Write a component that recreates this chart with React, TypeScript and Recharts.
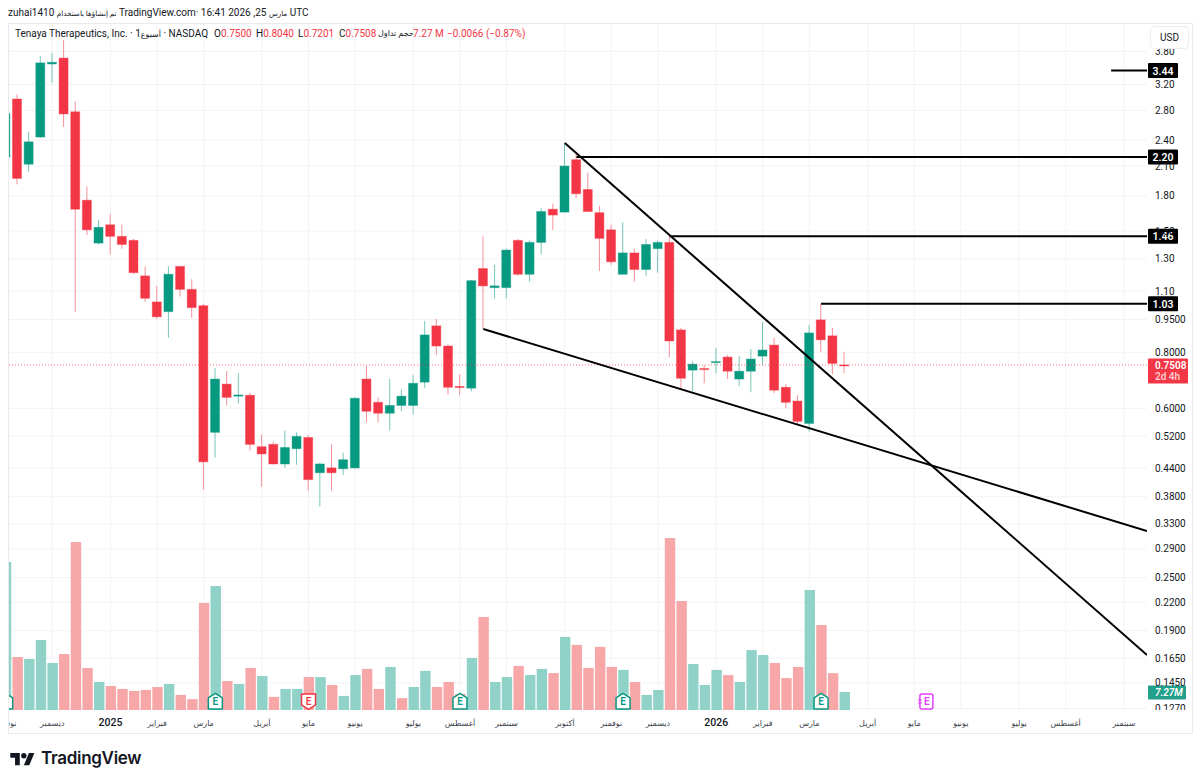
import React from 'react'
import { Bar, CartesianGrid, Cell, ComposedChart, Line, ReferenceDot, ReferenceLine, XAxis, YAxis } from 'recharts'

const opens = [2.2, 2.97, 2.12, 2.44, 3.56, 3.67, 2.78, 1.76, 1.41, 1.55, 1.46, 1.43, 1.19, 1.04, 0.989, 1.25, 1.11, 1.02, 0.53, 0.68, 0.639, 0.642, 0.492, 0.498, 0.45, 0.487, 0.516, 0.43, 0.441, 0.439, 0.441, 0.698, 0.619, 0.585, 0.609, 0.609, 0.687, 0.919, 0.828, 0.672, 0.666, 1.236, 1.12, 1.12, 1.43, 1.2, 1.415, 1.68, 1.655, 2.17, 1.86, 1.65, 1.51, 1.2, 1.34, 1.23, 1.37, 1.415, 0.9, 0.731, 0.737, 0.76, 0.782, 0.698, 0.727, 0.786, 0.832, 0.669, 0.623, 0.555, 0.948, 0.873, 0.75]
const highs = [2.78, 3.04, 2.51, 3.71, 3.77, 4.03, 2.93, 1.89, 1.59, 1.64, 1.55, 1.44, 1.25, 1.13, 1.25, 1.25, 1.17, 1.03, 0.739, 0.727, 0.72, 0.649, 0.524, 0.505, 0.535, 0.53, 0.522, 0.453, 0.498, 0.477, 0.635, 0.747, 0.635, 0.698, 0.662, 0.712, 0.943, 0.953, 0.835, 0.716, 1.165, 1.46, 1.26, 1.37, 1.44, 1.43, 1.69, 1.73, 2.37, 2.25, 2.03, 1.71, 1.55, 1.57, 1.37, 1.44, 1.43, 1.46, 0.91, 0.766, 0.75, 0.82, 0.79, 0.786, 0.815, 0.938, 0.864, 0.68, 0.642, 0.924, 1.03, 0.91, 0.804]
const lows = [2.19, 1.91, 2.04, 2.43, 3.23, 2.57, 0.989, 1.47, 1.4, 1.33, 1.37, 1.2, 1.04, 0.953, 0.864, 1.07, 0.958, 0.394, 0.465, 0.609, 0.616, 0.482, 0.4, 0.449, 0.441, 0.448, 0.392, 0.361, 0.392, 0.425, 0.439, 0.558, 0.558, 0.535, 0.591, 0.581, 0.666, 0.79, 0.645, 0.642, 0.655, 0.905, 1.06, 1.06, 1.19, 1.155, 1.33, 1.51, 1.65, 1.78, 1.66, 1.22, 1.26, 1.2, 1.155, 1.19, 1.21, 0.782, 0.662, 0.655, 0.683, 0.72, 0.698, 0.673, 0.652, 0.75, 0.649, 0.6, 0.549, 0.532, 0.803, 0.716, 0.7201]
const closes = [2.76, 1.97, 2.38, 3.58, 3.59, 2.75, 1.68, 1.51, 1.53, 1.46, 1.4, 1.21, 1.06, 0.963, 1.2, 1.11, 1.01, 0.455, 0.698, 0.635, 0.643, 0.498, 0.474, 0.45, 0.49, 0.519, 0.415, 0.45, 0.43, 0.46, 0.632, 0.591, 0.585, 0.609, 0.639, 0.683, 0.877, 0.828, 0.669, 0.668, 1.161, 1.13, 1.13, 1.36, 1.2, 1.415, 1.66, 1.63, 2.1, 1.82, 1.66, 1.445, 1.28, 1.34, 1.23, 1.4, 1.415, 0.85, 0.701, 0.754, 0.733, 0.764, 0.727, 0.727, 0.774, 0.811, 0.659, 0.619, 0.561, 0.886, 0.855, 0.757, 0.7508]
// million shares
const volumes = [59.8, 21.4, 20.6, 28.3, 19, 22.6, 67.9, 17, 11.3, 9.7, 8.5, 7.7, 8.1, 9.3, 10.5, 6.1, 4.4, 43.2, 50.1, 11.7, 10.5, 17, 13.7, 5.3, 8.5, 8.5, 13.3, 13.3, 10.1, 5.7, 14.1, 16.6, 8.5, 17.4, 4.8, 9.3, 15.8, 9.3, 11.3, 6.5, 21, 37.6, 11.3, 13.3, 17.8, 14.1, 16.6, 14.9, 29.5, 26.3, 17, 25.5, 17.4, 16.2, 11.3, 6.1, 8.1, 69.5, 44, 18.6, 10.1, 16.2, 14.1, 11.3, 24.2, 22.2, 19, 12.9, 17.4, 48.5, 34.3, 14.9, 7.27]
const volumeDown = [1, 5, 6, 7, 9, 10, 11, 12, 13, 15, 16, 17, 19, 21, 23, 26, 28, 31, 32, 34, 37, 38, 39, 41, 44, 47, 49, 50, 51, 52, 54, 57, 58, 62, 66, 67, 68, 70, 71]
// last week closed under the previous close, tradingview paints it red
const forcedRed = [72]

const priceTicks = [3.8, 3.2, 2.8, 2.4, 2.1, 1.8, 1.5, 1.3, 1.1, 0.95, 0.8, 0.6, 0.52, 0.44, 0.38, 0.33, 0.29, 0.25, 0.22, 0.19, 0.165, 0.145, 0.127]
const monthTicks = [0, 4, 9, 13, 17, 22, 26, 30, 35, 39, 43, 48, 52, 56, 61, 65, 69, 74, 78, 82, 87, 91, 96]
const monthLabels = ['نوفمبر', 'ديسمبر', '2025', 'فبراير', 'مارس', 'أبريل', 'مايو', 'يونيو', 'يوليو', 'أغسطس', 'سبتمبر', 'أكتوبر', 'نوفمبر', 'ديسمبر', '2026', 'فبراير', 'مارس', 'أبريل', 'مايو', 'يونيو', 'يوليو', 'أغسطس', 'سبتمبر']

const trendLines = [
  [{ i: 48, v: 2.366 }, { i: 97.98, v: 0.1676 }],
  [{ i: 41, v: 0.9043 }, { i: 97.98, v: 0.3182 }],
  [{ i: 94.9, v: 3.44 }, { i: 97.98, v: 3.44 }],
  [{ i: 49, v: 2.2 }, { i: 97.98, v: 2.2 }],
  [{ i: 57, v: 1.46 }, { i: 97.98, v: 1.46 }],
  [{ i: 70, v: 1.03 }, { i: 97.98, v: 1.03 }],
]
const levelTags = [3.44, 2.2, 1.46, 1.03]
const earningsDone = [0, 18, 39, 53, 70]
const earningsMissed = [26]
const earningsNext = [79]
const earningsLevel = 0.1318

const GREEN = '#089981'
const RED = '#f23645'
const INK = '#131722'
const FONT = 'Roboto, "DejaVu Sans", sans-serif'

const rows = opens.map((o, i) => ({
  i,
  o,
  h: highs[i],
  l: lows[i],
  c: closes[i],
  range: [lows[i], highs[i]],
  vol: volumes[i],
}))

function Candle(props: any) {
  const { x, y, width, height, payload } = props
  if (!payload) return null
  const { o, h, l, c, i } = payload
  const up = c >= o && !forcedRed.includes(i)
  const color = up ? GREEN : RED
  const at = (v: number) => y + (height * Math.log(h / v)) / Math.log(h / l)
  const top = at(Math.max(o, c))
  const bottom = at(Math.min(o, c))
  const mid = x + width / 2
  return (
    <g>
      <line x1={mid} x2={mid} y1={y} y2={y + height} stroke={color} strokeOpacity={0.55} strokeWidth={1} />
      <rect x={x} y={top} width={width} height={Math.max(1, bottom - top)} fill={color} stroke={color} strokeOpacity={0.4} strokeWidth={1} />
    </g>
  )
}

function PriceTick({ y, payload }: any) {
  const v = payload.value
  return (
    <g clipPath="url(#priceTickClip)">
      <text x={1147} y={y + 3.5} fill={INK} fontSize={10} fontFamily={FONT}>
        {v >= 1 ? v.toFixed(2) : v.toFixed(4)}
      </text>
    </g>
  )
}

function MonthTick({ x, y, payload }: any) {
  const label = monthLabels[monthTicks.indexOf(payload.value)]
  const isYear = label.startsWith('20')
  return (
    <text x={x} y={y + 8} textAnchor="middle" fill={isYear ? INK : '#3a3e4a'} fontSize={isYear ? 10.5 : 8} fontWeight={isYear ? 500 : 400} fontFamily={FONT}>
      {label}
    </text>
  )
}

function Tag({ viewBox, text, fill }: any) {
  return (
    <g>
      <rect x={1140} y={viewBox.y - 7.5} width={30} height={15} fill={fill} rx={1} />
      <text x={1155} y={viewBox.y + 4} textAnchor="middle" fill="#fff" fontSize={10.5} fontWeight={600} fontFamily={FONT}>
        {text}
      </text>
    </g>
  )
}

function LastPriceTag({ viewBox }: any) {
  return (
    <g>
      <rect x={1140} y={viewBox.y - 6.5} width={40} height={25} fill={RED} rx={1} />
      <text x={1147} y={viewBox.y + 4} fill="#fff" fontSize={10} fontWeight={600} fontFamily={FONT}>0.7508</text>
      <text x={1147} y={viewBox.y + 15.5} fill="#ffc9cd" fontSize={10} fontWeight={600} fontFamily={FONT}>2d 4h</text>
    </g>
  )
}

function VolumeTag({ viewBox }: any) {
  return (
    <g>
      <rect x={1140} y={viewBox.y - 6.5} width={38} height={14} fill="#22a08c" rx={1} />
      <text x={1147} y={viewBox.y + 4} fill="#fff" fontSize={10} fontWeight={600} fontStyle="italic" fontFamily={FONT}>7.27M</text>
    </g>
  )
}

function EarningsMark({ cx, cy, color, flipped }: any) {
  const d = flipped
    ? `M${cx - 7} ${cy - 7.5}H${cx + 7}V${cy + 3.5}L${cx} ${cy + 8}L${cx - 7} ${cy + 3.5}Z`
    : `M${cx} ${cy - 8}L${cx + 7} ${cy - 3.5}V${cy + 7.5}H${cx - 7}V${cy - 3.5}Z`
  return (
    <g>
      <path d={d} fill="#fff" stroke={color} strokeWidth={1.5} strokeLinejoin="round" />
      <text x={cx} y={cy + 4} textAnchor="middle" fill={color} fontSize={10} fontWeight={600} fontFamily={FONT}>E</text>
    </g>
  )
}

function NextEarningsMark({ cx, cy }: any) {
  const c = '#e040fb'
  return (
    <g>
      <rect x={cx - 6} y={cy - 7.5} width={13} height={15} rx={2} fill="#fff" stroke={c} strokeWidth={1.5} />
      <path d={`M${cx - 8} ${cy - 1.5}h4M${cx - 8} ${cy + 1.5}h4`} stroke={c} strokeWidth={1} />
      <text x={cx + 1} y={cy + 4} textAnchor="middle" fill={c} fontSize={10} fontWeight={600} fontFamily={FONT}>E</text>
    </g>
  )
}

const legendValues = [
  { left: 214, name: 'O', value: '0.7500' },
  { left: 256, name: 'H', value: '0.8040' },
  { left: 298, name: 'L', value: '0.7201' },
  { left: 339, name: 'C', value: '0.7508' },
]

export default function App() {
  const small = { fontSize: 8 }
  return (
    <div style={{ position: 'absolute', left: 0, top: 0, width: 1200, height: 783, background: '#fff', fontFamily: FONT, color: INK, overflow: 'hidden' }}>
      <div style={{ position: 'absolute', left: 8, top: 7, fontSize: 10, whiteSpace: 'nowrap', direction: 'ltr' }}>
        zuhai1410 <span style={{ fontSize: 7.2 }}>تم إنشاؤها باستخدام</span> TradingView.com· 16:41 2026 ,25 <span style={{ fontSize: 7.2 }}>مارس</span> UTC
      </div>

      <div style={{ position: 'absolute', left: 8, top: 23 }}>
        <ComposedChart width={1184} height={710} data={rows} margin={{ top: 0, right: 0, bottom: 0, left: 0 }}>
          <defs>
            <clipPath id="priceTickClip">
              <rect x={1139} y={26} width={45} height={661} />
            </clipPath>
          </defs>
          <CartesianGrid stroke="#f2f3f5" strokeWidth={1} horizontalValues={priceTicks} verticalValues={monthTicks} />
          <XAxis dataKey="i" type="number" domain={[0.2, 97.98]} allowDataOverflow ticks={monthTicks} interval={0} axisLine={false} tickLine={false} height={23} tick={<MonthTick />} />
          <XAxis xAxisId="vx" dataKey="i" type="number" domain={[0.2, 97.98]} allowDataOverflow hide />
          <YAxis orientation="right" scale="log" type="number" domain={[0.1261, 4.4]} allowDataOverflow ticks={priceTicks} interval={0} axisLine={false} tickLine={false} width={45} tick={<PriceTick />} />
          <YAxis yAxisId="vy" type="number" domain={[0, 277.5]} allowDataOverflow hide />

          <Bar xAxisId="vx" yAxisId="vy" dataKey="vol" barSize={10.4} isAnimationActive={false}>
            {rows.map(r => (
              <Cell key={r.i} fill={volumeDown.includes(r.i) ? '#f8a7a9' : '#90d1c8'} />
            ))}
          </Bar>
          <Bar dataKey="range" barSize={9} shape={<Candle />} isAnimationActive={false} />

          <ReferenceLine y={0.7508} stroke={RED} strokeOpacity={0.7} strokeDasharray="1 2" label={<LastPriceTag />} />
          {trendLines.map((seg, n) => (
            <Line key={n} data={seg} dataKey="v" stroke="#000" strokeWidth={2} dot={false} legendType="none" isAnimationActive={false} />
          ))}
          {levelTags.map(v => (
            <ReferenceLine key={v} y={v} stroke="none" label={<Tag text={v.toFixed(2)} fill="#000" />} />
          ))}
          <ReferenceLine xAxisId="vx" yAxisId="vy" y={7.27} stroke="none" label={<VolumeTag />} />

          {earningsDone.map(i => (
            <ReferenceDot key={i} x={i} y={earningsLevel} ifOverflow="visible" shape={<EarningsMark color={GREEN} />} />
          ))}
          {earningsMissed.map(i => (
            <ReferenceDot key={i} x={i} y={earningsLevel} ifOverflow="visible" shape={<EarningsMark color={RED} flipped />} />
          ))}
          {earningsNext.map(i => (
            <ReferenceDot key={i} x={i} y={earningsLevel} ifOverflow="visible" shape={<NextEarningsMark />} />
          ))}
        </ComposedChart>
      </div>

      <div style={{ position: 'absolute', left: 8, top: 23, width: 1183, height: 709, border: '1px solid #e9eaec', pointerEvents: 'none' }} />

      <div style={{ position: 'absolute', left: 0, top: 28, fontSize: 10, whiteSpace: 'nowrap' }}>
        <span style={{ position: 'absolute', left: 15 }}>
          Tenaya Therapeutics, Inc. · 1<span style={small}>أسبوع</span> · NASDAQ
        </span>
        {legendValues.map(l => (
          <span key={l.name} style={{ position: 'absolute', left: l.left }}>
            {l.name}
            <span style={{ color: RED }}>{l.value}</span>
          </span>
        ))}
        <span style={{ position: 'absolute', left: 378, top: 1, ...small }}>حجم تداول</span>
        <span style={{ position: 'absolute', left: 413, color: RED }}>7.27 M</span>
        <span style={{ position: 'absolute', left: 447, color: RED }}>−0.0066 (−0.87%)</span>
      </div>

      <div style={{ position: 'absolute', left: 1150, top: 26, width: 37, height: 21, background: '#fff', border: '1px solid #eceef0', borderRadius: 4, fontSize: 10, textAlign: 'center', lineHeight: '21px' }}>USD</div>

      <div style={{ position: 'absolute', left: 10, top: 748, display: 'flex', alignItems: 'center', gap: 6 }}>
        <svg width={25} height={19} viewBox="0 0 36 28">
          <path d="M14 24H7V13H0V6h14v18zM28 24h-8l7.5-18h8L28 24z" fill="#131722" />
          <circle cx="20" cy="10" r="4" fill="#131722" />
        </svg>
        <span style={{ fontFamily: 'Inter, sans-serif', fontSize: 17, fontWeight: 600, letterSpacing: -0.3, color: '#131722' }}>TradingView</span>
      </div>
    </div>
  )
}
